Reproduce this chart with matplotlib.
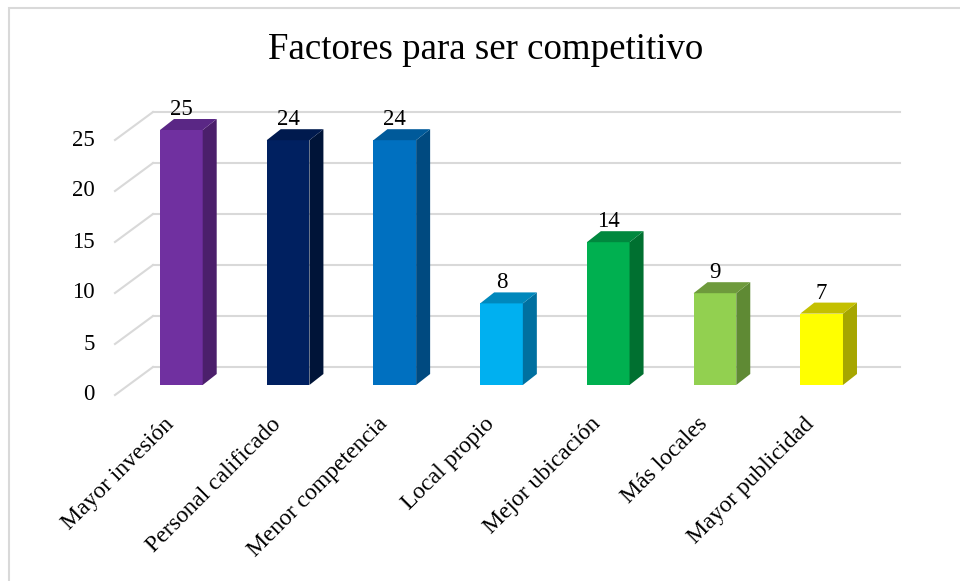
import matplotlib
matplotlib.use('Agg')
import matplotlib.pyplot as plt
from matplotlib.patches import Polygon, Rectangle

# datos del gráfico
categorias = ['Mayor invesión', 'Personal calificado', 'Menor competencia', 'Local propio',
              'Mejor ubicación', 'Más locales', 'Mayor publicidad']
valores = [25, 24, 24, 8, 14, 9, 7]
ticks_y = [0, 5, 10, 15, 20, 25]

# colores: frente, lateral y techo de cada barra
colores = ['#7030A0', '#002060', '#0070C0', '#00B0F0', '#00B050', '#92D050', '#FFFF00']
lados = ['#4b1f6b', '#001438', '#004a80', '#0070a0', '#007030', '#5f8a34', '#a6a600']
techos = ['#5a2785', '#001a4e', '#005a9a', '#0088bc', '#00883e', '#6e9a3c', '#c4c000']

plt.rcParams['font.family'] = ['Liberation Serif', 'DejaVu Serif']
gris = '#d9d9d9'

fig = plt.figure(figsize=(9.6, 5.81), dpi=100)
ax = fig.add_axes([128 / 960, 1 - 385 / 581, 747 / 960, 255 / 581])
n = len(valores)
ax.set_xlim(-0.5, n - 0.5)
ax.set_ylim(0, 25)

# pixeles por unidad de datos, para los desplazamientos 3D
bb = ax.get_window_extent()
ux = bb.width / n
uy = bb.height / 25


def px(dx, dy):
    return dx / ux, dy / uy


fondo_x, fondo_y = px(25, 18)     # pared del fondo
frente_x, frente_y = px(-13, -10)  # borde delantero del piso
prof_x, prof_y = px(14, 11)       # profundidad de las barras

# rejilla en la pared del fondo y líneas oblicuas a la izquierda
for t in ticks_y:
    ax.plot([-0.5 + fondo_x, n - 0.5 + fondo_x], [t + fondo_y, t + fondo_y],
            color=gris, lw=1.5, zorder=1, clip_on=False)
    ax.plot([-0.5 + frente_x, -0.5 + fondo_x], [t + frente_y, t + fondo_y],
            color=gris, lw=1.5, zorder=1, clip_on=False)
    ax.text(-0.5 + frente_x - 20 / ux, t + frente_y, str(t), ha='right', va='center',
            fontsize=16.5)

# barras 3D
ancho = 0.4
x = list(range(n))
ax.bar(x, valores, width=ancho, color=colores, zorder=3)
for i, v in enumerate(valores):
    izq, der = i - ancho / 2, i + ancho / 2
    ax.add_patch(Polygon([(der, 0), (der + prof_x, prof_y), (der + prof_x, v + prof_y), (der, v)],
                         closed=True, facecolor=lados[i], edgecolor='none', zorder=3,
                         clip_on=False))
    ax.add_patch(Polygon([(izq, v), (der, v), (der + prof_x, v + prof_y), (izq + prof_x, v + prof_y)],
                         closed=True, facecolor=techos[i], edgecolor='none', zorder=3,
                         clip_on=False))
    ax.annotate(str(v), (i, v), xytext=(0, 10.8), textcoords='offset points',
                ha='center', va='baseline', fontsize=16.5, annotation_clip=False)
    # etiqueta de la categoría, girada 45°
    ax.annotate(categorias[i], (i, 0), xytext=(-7.5, -26), textcoords='offset points',
                ha='right', va='center', rotation=45, rotation_mode='anchor',
                fontsize=17, annotation_clip=False)

ax.set_xticks([])
ax.set_yticks([])
for s in ax.spines.values():
    s.set_visible(False)
ax.patch.set_visible(False)

fig.text(486 / 960, 1 - 50 / 581, 'Factores para ser competitivo', ha='center', va='center',
         fontsize=26.6)

# marco del área del gráfico
fig.patches.append(Rectangle((9 / 960, -0.1), 1.2, 1.1 - 8 / 581, transform=fig.transFigure,
                             fill=False, edgecolor=gris, lw=1.5))

fig.savefig('out.png', dpi=100)
